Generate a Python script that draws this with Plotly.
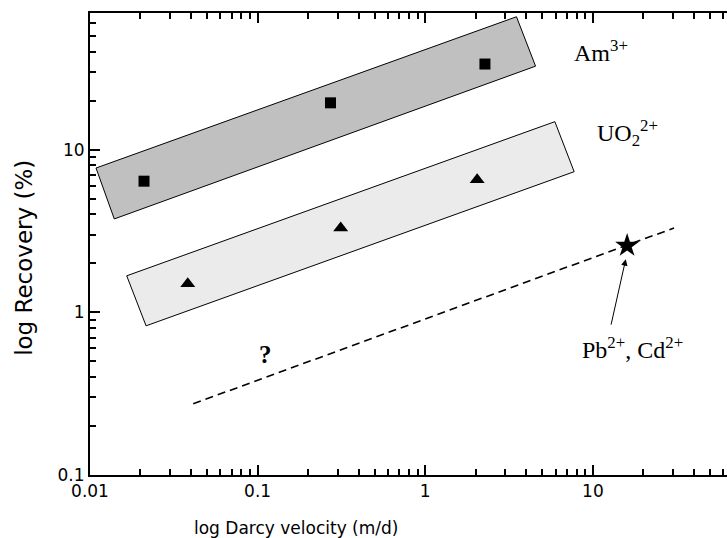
import plotly.graph_objects as go

# Data
am_velocity = [0.021, 0.272, 2.27]
am_recovery = [6.4, 19.4, 33.6]
uo2_velocity = [0.0383, 0.313, 2.04]
uo2_recovery = [1.50, 3.30, 6.53]
pbcd_velocity = [16.0]
pbcd_recovery = [2.57]
trend_velocity = [0.0413, 30.5]
trend_recovery = [0.274, 3.3]
am_band_velocity = [0.01086, 3.50, 4.55, 0.01396, 0.01086]
am_band_recovery = [7.71, 65.6, 32.6, 3.75, 7.71]
uo2_band_velocity = [0.01656, 5.93, 7.73, 0.0216, 0.01656]
uo2_band_recovery = [1.677, 14.86, 7.32, 0.826, 1.677]
x_tick_vals = [0.01, 0.1, 1, 10]
x_tick_text = ["0.01", "0.1", "1", "10"]
y_tick_vals = [0.1, 1, 10]
y_tick_text = ["0.1", "1", "10"]
digits = [2, 3, 4, 5, 6, 7, 8, 9]
x_minor_vals = [d * p for p in [0.01, 0.1, 1, 10] for d in digits]
y_minor_vals = [d * p for p in [0.1, 1, 10] for d in digits]

fig = go.Figure()
fig.add_trace(go.Scatter(x=am_band_velocity, y=am_band_recovery, mode="lines",
                         fill="toself", fillcolor="#c0c0c0",
                         line=dict(color="black", width=1), hoverinfo="skip"))
fig.add_trace(go.Scatter(x=uo2_band_velocity, y=uo2_band_recovery, mode="lines",
                         fill="toself", fillcolor="#ebebeb",
                         line=dict(color="black", width=1), hoverinfo="skip"))
fig.add_trace(go.Scatter(x=trend_velocity, y=trend_recovery, mode="lines",
                         line=dict(color="black", width=1.6, dash="8px,5px")))
fig.add_trace(go.Scatter(x=am_velocity, y=am_recovery, mode="markers",
                         marker=dict(symbol="square", size=11, color="black")))
fig.add_trace(go.Scatter(x=uo2_velocity, y=uo2_recovery, mode="markers",
                         marker=dict(symbol="triangle-up", size=13, color="black")))
fig.add_trace(go.Scatter(x=pbcd_velocity, y=pbcd_recovery, mode="markers",
                         marker=dict(symbol="star", size=18, color="black")))

serif = dict(family="Liberation Serif", size=24, color="black")
fig.add_annotation(x=0.874, y=1.609, xref="x", yref="y", text="Am<sup>3+</sup>",
                   showarrow=False, xanchor="left", yanchor="middle", font=serif)
fig.add_annotation(x=1.011, y=1.105, xref="x", yref="y", text="UO<sub>2</sub><sup>2+</sup>",
                   showarrow=False, xanchor="left", yanchor="middle", font=serif)
fig.add_annotation(x=0.925, y=-0.2185, xref="x", yref="y", text="Pb<sup>2+</sup>, Cd<sup>2+</sup>",
                   showarrow=False, xanchor="left", yanchor="middle", font=serif)
fig.add_annotation(x=-0.9505, y=-0.2615, xref="x", yref="y", text="<b>?</b>",
                   showarrow=False, xanchor="center", yanchor="middle",
                   font=dict(family="Liberation Serif", size=25, color="black"))
# arrow to the star
fig.add_annotation(x=1.196, y=0.327, xref="x", yref="y", ax=-15, ay=67, text="",
                   showarrow=True, arrowhead=2, arrowsize=1.3, arrowwidth=1, arrowcolor="black")

fig.add_annotation(x=0.323, y=-0.115, xref="paper", yref="paper", text="log Darcy velocity (m/d)",
                   showarrow=False, xanchor="center", yanchor="middle",
                   font=dict(family="DejaVu Sans", size=17, color="black"))
fig.add_annotation(x=-0.1036, y=0.47, xref="paper", yref="paper", text="log Recovery (%)",
                   showarrow=False, xanchor="center", yanchor="middle", textangle=-90,
                   font=dict(family="DejaVu Sans", size=23, color="black"))

fig.update_layout(
    width=727, height=538, showlegend=False,
    paper_bgcolor="white", plot_bgcolor="white",
    margin=dict(l=90, r=0, t=13, b=63),
)
fig.update_xaxes(type="log", range=[-2, 1.80], showgrid=False, zeroline=False,
                 showline=True, linecolor="black", linewidth=2, mirror="ticks",
                 ticks="inside", ticklen=10, tickwidth=2, tickcolor="black",
                 tickmode="array", tickvals=x_tick_vals, ticktext=x_tick_text,
                 tickfont=dict(family="DejaVu Sans", size=17, color="black"),
                 minor=dict(ticks="inside", ticklen=6, tickwidth=1.5, tickcolor="black",
                            tickmode="array", tickvals=x_minor_vals, showgrid=False))
fig.update_yaxes(type="log", range=[-1, 1.84], showgrid=False, zeroline=False,
                 showline=True, linecolor="black", linewidth=2,
                 ticks="inside", ticklen=10, tickwidth=2, tickcolor="black",
                 tickmode="array", tickvals=y_tick_vals, ticktext=y_tick_text,
                 tickfont=dict(family="DejaVu Sans", size=17, color="black"),
                 minor=dict(ticks="inside", ticklen=6, tickwidth=1.5, tickcolor="black",
                            tickmode="array", tickvals=y_minor_vals, showgrid=False))
fig.write_html("out.html")
